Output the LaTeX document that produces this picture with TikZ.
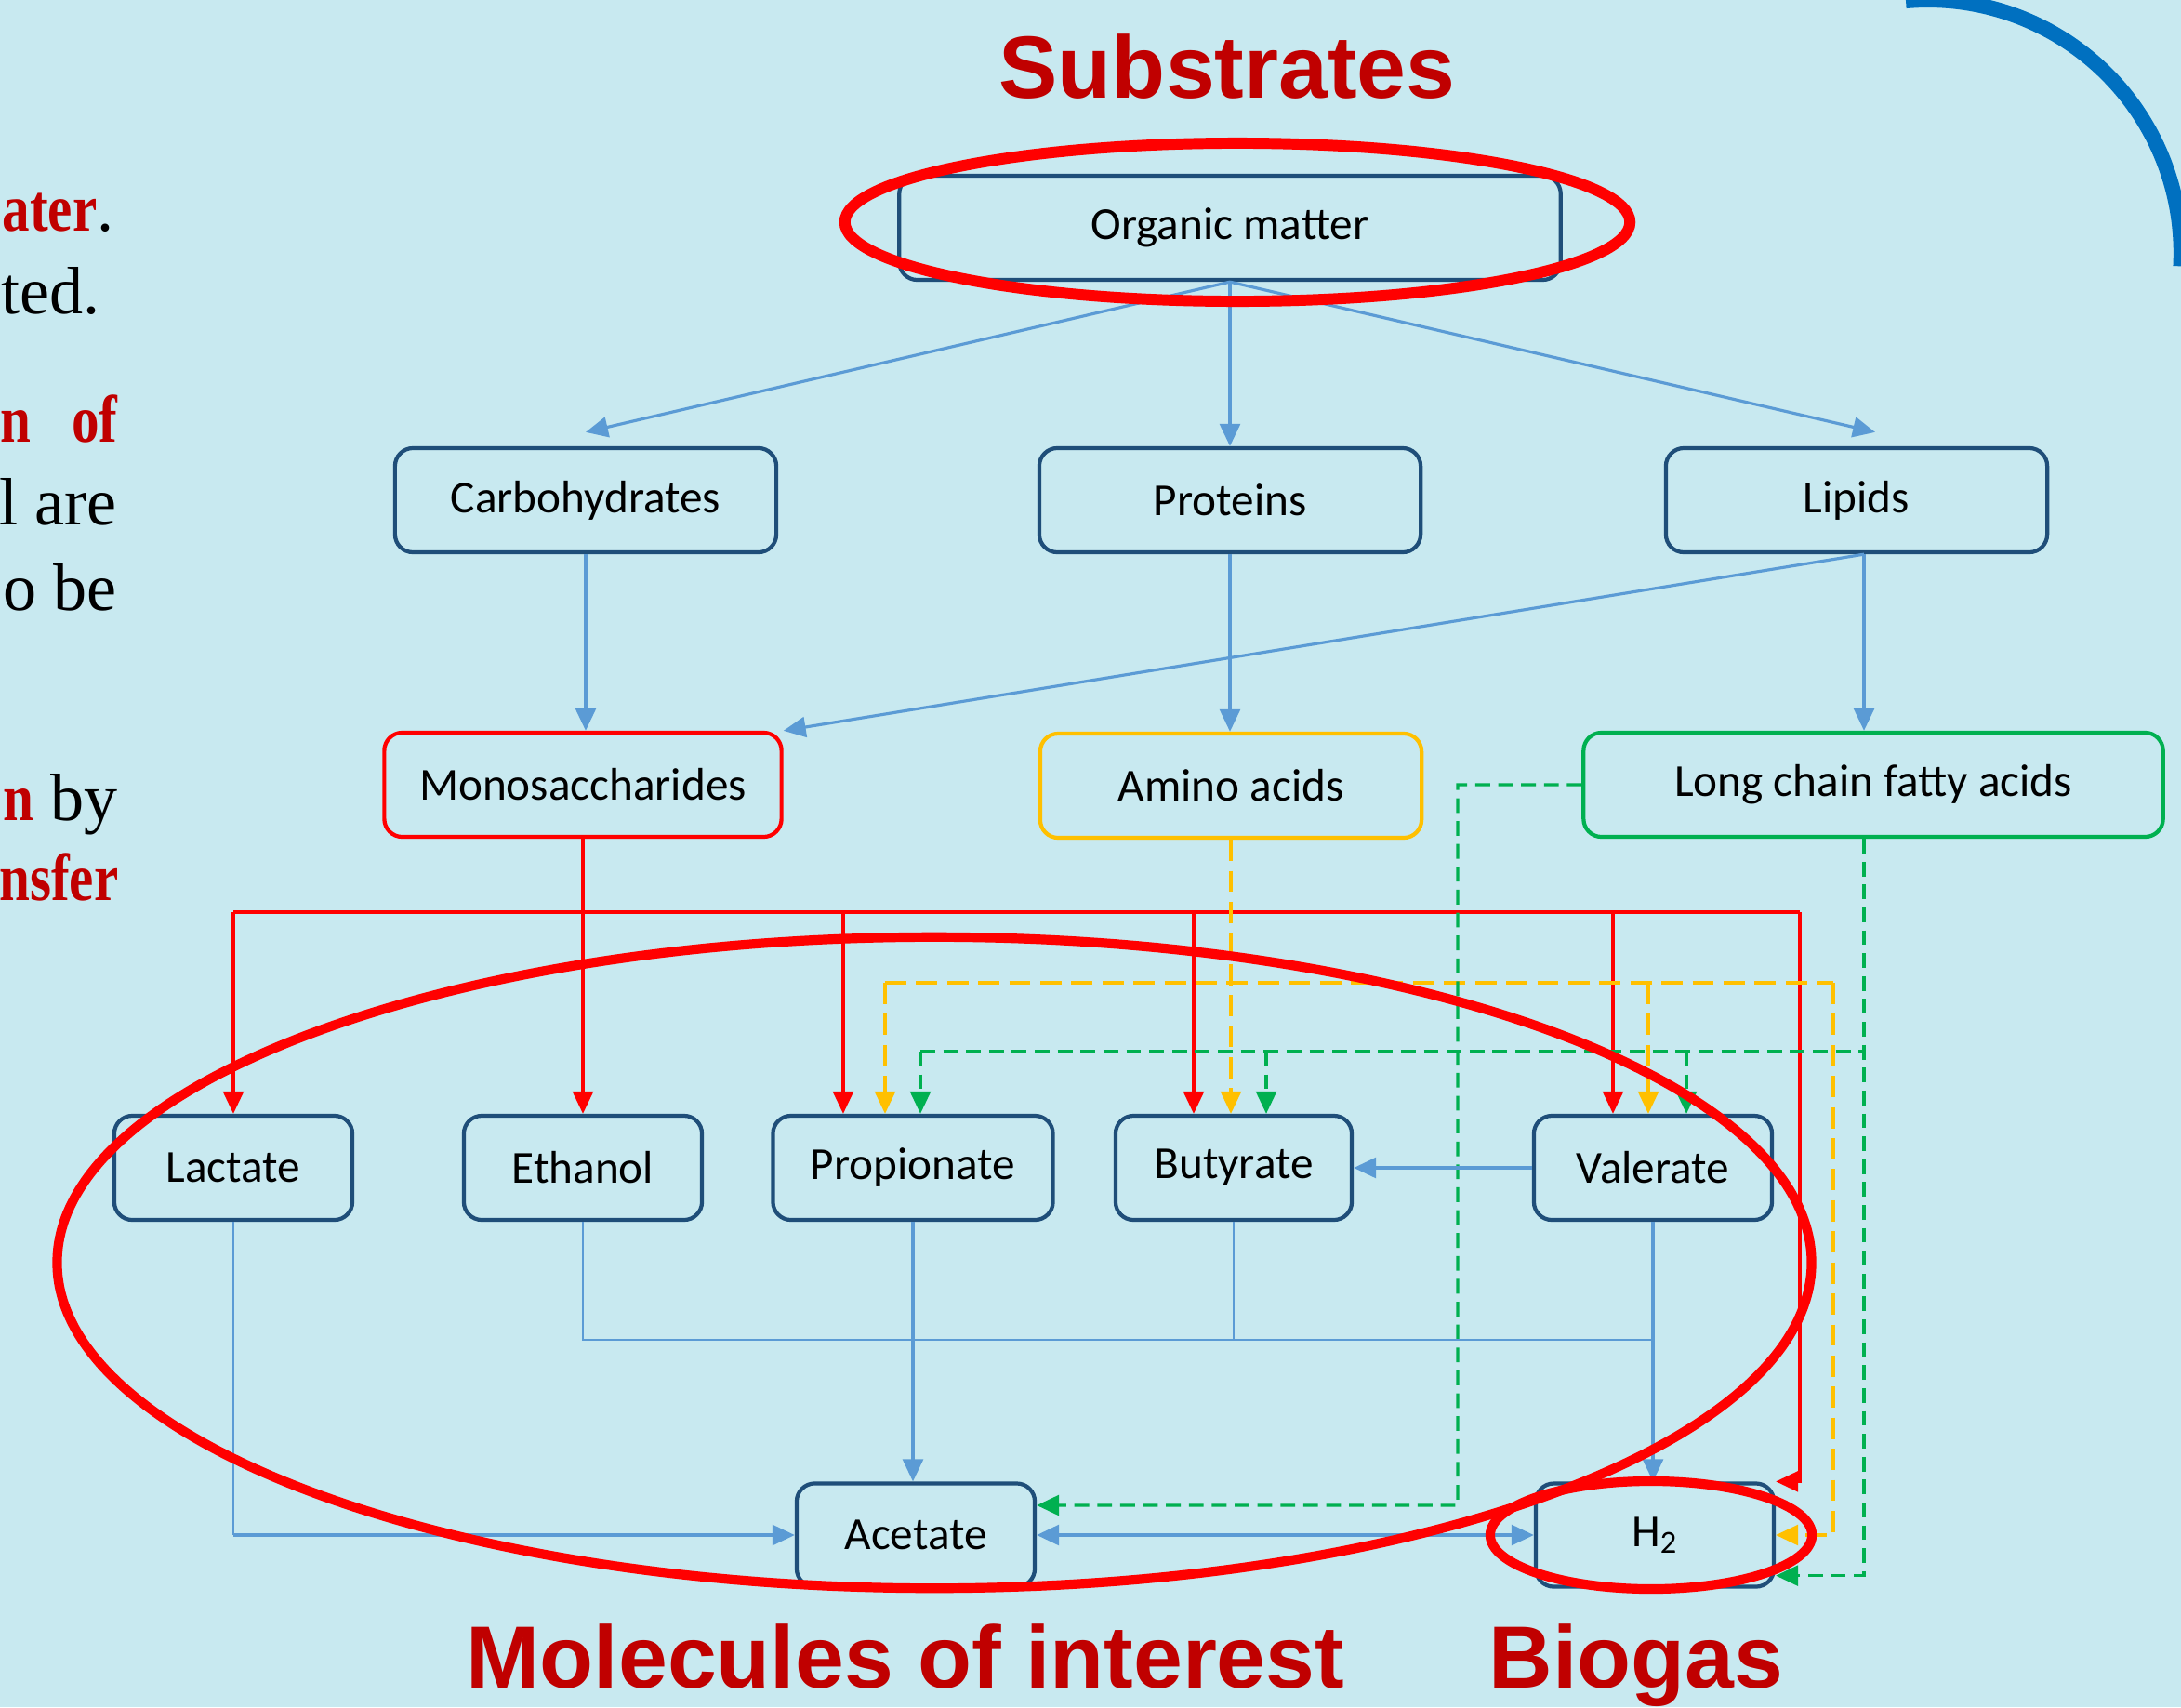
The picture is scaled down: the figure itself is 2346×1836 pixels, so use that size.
\documentclass[tikz,border=0pt]{standalone}
\usepackage{fontspec}
\usepackage{tikz}
\usetikzlibrary{arrows.meta}
\newfontfamily\boxfont{Carlito}
\newfontfamily\headfont{Liberation Sans}
\newfontfamily\notefont[BoldFeatures={FakeStretch=0.82}]{Liberation Serif}
\definecolor{waterbg}{RGB}{200,233,240}
\definecolor{boxline}{RGB}{31,78,121}
\definecolor{flowblue}{RGB}{91,155,213}
\definecolor{acidorange}{RGB}{255,192,0}
\definecolor{acidgreen}{RGB}{0,176,80}
\definecolor{headred}{RGB}{192,0,0}
\definecolor{arcblue}{RGB}{0,112,192}

\begin{document}
\begin{tikzpicture}
      [
        x=0.01cm, y=-0.01cm,
        >={Triangle[length=6.8pt,width=6.2pt]},
        box/.style={draw=boxline, line width=1.2pt, rounded corners=5.5pt,
          minimum height=1.12cm, inner sep=0pt,
          font=\boxfont\fontsize{14}{16}\selectfont},
        head/.style={text=headred, anchor=base, inner sep=0pt,
          font=\headfont\bfseries\fontsize{27}{32}\selectfont},
        note/.style={anchor=base east, inner sep=0pt,
          font=\notefont\fontsize{20.5}{24}\selectfont},
        flow/.style={flowblue, line width=0.9pt},
        thinflow/.style={flowblue, line width=0.5pt},
        redflow/.style={red, line width=0.9pt},
        orangeflow/.style={acidorange, line width=0.9pt, dash pattern=on 6.5pt off 3pt},
        greenflow/.style={acidgreen, line width=0.9pt, dash pattern=on 4.5pt off 2.5pt},
        ring/.style={red, line width=2.9pt}
      ]
      \useasboundingbox (0,0) rectangle (2346,1836);
      \fill[waterbg] (0,0) rectangle (2346,1836);
      \draw[arcblue, line width=4.6pt] (2050,1) arc [start angle=95, end angle=-3, radius=2.72cm];
      % side text
      \node[note] (n1) at (123,248) {\textcolor{headred}{\bfseries ater}.};
      \node[note] (n2) at (108,337) {ted.};
      \node[note] (n3) at (127,475) {\textcolor{headred}{\bfseries n\hspace{0.6em}of}};
      \node[note] (n4) at (126,564) {l are};
      \node[note] (n5) at (126,656) {o be};
      \node[note] (n6) at (127,882) {\textcolor{headred}{\bfseries n} by};
      \node[note] (n7) at (128,968) {\textcolor{headred}{\bfseries nsfer}};
      % substrates
      \node[box, minimum width=7.11cm] (om) at (1323,245) {Organic matter};
      \node[box, minimum width=4.10cm] (carb) at (630,538) {Carbohydrates};
      \node[box, minimum width=4.10cm] (prot) at (1323,538) {Proteins};
      \node[box, minimum width=4.10cm] (lip) at (1997,538) {Lipids};
      % monomers
      \node[box, draw=red, minimum width=4.27cm] (mono) at (627,844) {Monosaccharides};
      \node[box, draw=acidorange, minimum width=4.10cm] (amino) at (1324,845) {Amino acids};
      \node[box, draw=acidgreen, minimum width=6.23cm] (lcfa) at (2015,844) {Long chain fatty acids};
      % molecules of interest
      \node[box, minimum width=2.56cm] (lac) at (251,1256) {Lactate};
      \node[box, minimum width=2.56cm] (eth) at (627,1256) {Ethanol};
      \node[box, minimum width=3.01cm] (prop) at (982,1256) {Propionate};
      \node[box, minimum width=2.54cm] (but) at (1327,1256) {Butyrate};
      \node[box, minimum width=2.56cm] (val) at (1778,1256) {Valerate};
      \node[box, minimum width=2.56cm, minimum height=1.11cm] (ace) at (985,1651) {Acetate};
      \node[box, minimum width=2.56cm, minimum height=1.11cm] (h2) at (1780,1651) {H\textsubscript{2}};
      % bus lines
      \coordinate (redbus) at (0,981);
      \coordinate (orangebus) at (0,1057);
      \coordinate (greenbus) at (0,1131);
      \coordinate (bluebus) at (0,1441);
      \coordinate (redR) at (1936,981);
      \coordinate (orangeR) at (1972,1057);
      \coordinate (greenL) at (1568,1619);
      % hydrolysis
      \draw[flow,->] (om.south) -- ([yshift=0.15cm]carb.north);
      \draw[flow,->] (om.south) -- (prot.north);
      \draw[flow,->] (om.south) -- ([xshift=0.2cm,yshift=0.15cm]lip.north);
      \draw[flow,->] (carb.south) -- (carb.south |- mono.north);
      \draw[flow,->] (prot.south) -- (prot.south |- amino.north);
      \draw[flow,->] ([xshift=0.08cm]lip.south) -- ([xshift=0.08cm]lip.south |- lcfa.north);
      \draw[flow,->] ([xshift=0.08cm]lip.south) -- (mono.north east);
      % from monosaccharides
      \draw[redflow,->] (mono.south) -- (mono.south |- eth.north);
      \draw[redflow] (lac.north |- redbus) -- (redR);
      \draw[redflow,->] (lac.north |- redbus) -- (lac.north);
      \foreach \n/\dx in {prop/-0.75, but/-0.43, val/-0.43} {
          \draw[redflow,->] ([xshift=\dx cm]\n.north |- redbus) -- ([xshift=\dx cm]\n.north);
      }
      \draw[redflow,->] (redR) |- (h2.north east);
      % from amino acids
      \draw[orangeflow,->] (amino.south) -- (amino.south |- but.north);
      \draw[orangeflow] ([xshift=-0.3cm]prop.north |- orangebus) -- (orangeR);
      \foreach \n/\dx in {prop/-0.3, val/-0.05} {
          \draw[orangeflow,->] ([xshift=\dx cm]\n.north |- orangebus) -- ([xshift=\dx cm]\n.north);
      }
      \draw[orangeflow,->] (orangeR) |- (h2.east);
      % from long chain fatty acids
      \draw[greenflow,->] (lcfa.west) -| (greenL) -- ([yshift=0.32cm]ace.east);
      \draw[greenflow,->] ([xshift=-0.1cm]lcfa.south) |- ([yshift=0.14cm]h2.south east);
      \draw[greenflow] ([xshift=0.08cm]prop.north |- greenbus) -- ([xshift=-0.1cm]lcfa.south |- greenbus);
      \foreach \n/\dx in {prop/0.08, but/0.35, val/0.36} {
          \draw[greenflow,->] ([xshift=\dx cm]\n.north |- greenbus) -- ([xshift=\dx cm]\n.north);
      }
      % acetate and hydrogen
      \draw[flow,->] (val.west) -- (but.east);
      \draw[thinflow] (lac.south) -- (lac.south |- ace.west);
      \draw[flow,->] (lac.south |- ace.west) -- (ace.west);
      \draw[flow,->] (prop.south) -- (prop.south |- ace.north);
      \draw[thinflow] (eth.south) -- (eth.south |- bluebus) -- (val.south |- bluebus);
      \draw[thinflow] (but.south) -- (but.south |- bluebus);
      \draw[flow,->] (val.south) -- (val.south |- h2.north);
      \draw[flow,<->] (ace.east) -- (h2.west);
      % highlight rings
      \draw[ring, line width=3.4pt] (1331,239) ellipse [x radius=4.22cm, y radius=0.85cm];
      \draw[ring] (1005,1358) ellipse [x radius=9.43cm, y radius=3.50cm];
      \draw[ring] (1776,1651) ellipse [x radius=1.73cm, y radius=0.58cm];
      % titles
      \node[head] (subst) at (1320,105) {Substrates};
      \node[head] (molec) at (974,1815) {Molecules of interest};
      \node[head] (biogas) at (1760,1815) {Biogas};
\end{tikzpicture}
\end{document}
